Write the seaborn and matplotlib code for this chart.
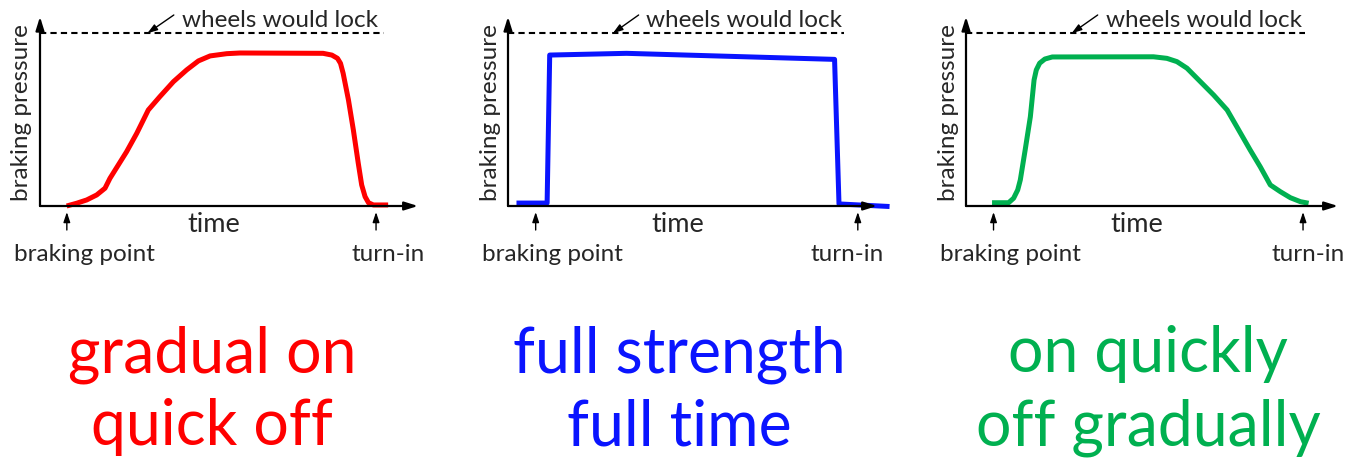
import matplotlib
matplotlib.use("Agg")
import pandas as pd
import seaborn as sns
import matplotlib.pyplot as plt

# time: 0 = pressure axis, 100 = tip of time arrow ; pressure: 1.0 = wheels would lock
RED_T = [7.06, 9.7, 12.35, 15.0, 17.2, 18.5, 20.7, 22.9, 25.6, 28.65, 31.7, 35.3, 38.8, 41.9, 45.0, 49.4, 52.9,
         74.9, 77.2, 78.7, 79.5, 80.2, 81.6, 82.9, 84.2, 85.1, 86.0, 86.9, 88.2, 92.1]
RED_P = [0.0, 0.016, 0.035, 0.064, 0.103, 0.160, 0.237, 0.314, 0.421, 0.556, 0.633, 0.720, 0.788, 0.840, 0.869, 0.882, 0.886,
         0.884, 0.874, 0.855, 0.826, 0.768, 0.614, 0.440, 0.247, 0.122, 0.054, 0.019, 0.006, 0.006]

BLUE_T = [2.3, 10.6, 11.3, 32.1, 88.5, 89.7, 103.4]
BLUE_P = [0.017, 0.017, 0.874, 0.884, 0.849, 0.012, -0.003]

GREEN_T = [7.0, 11.45, 12.8, 13.9, 14.6, 15.9, 17.3, 18.3, 18.9, 19.8, 21.2, 23.2,
           50.4, 54.0, 56.7, 59.4, 63.0, 66.6, 70.2, 72.8, 76.4, 79.1, 81.8, 84.5, 87.2, 89.9, 92.1]
GREEN_P = [0.019, 0.019, 0.045, 0.093, 0.151, 0.324, 0.517, 0.730, 0.788, 0.827, 0.851, 0.863,
           0.864, 0.855, 0.836, 0.798, 0.720, 0.642, 0.556, 0.459, 0.324, 0.227, 0.122, 0.083, 0.048, 0.025, 0.016]

BRAKE_T = [7.1, 7.5, 7.4]
TURNIN_T = [88.9, 94.8, 90.6]

CAPTIONS = [("gradual on", "quick off"), ("full strength", "full time"), ("on quickly", "off gradually")]
COLOURS = ["#ff0000", "#0a14ff", "#00b050"]

sns.set_style("white")
plt.rcParams["font.family"] = ["Lato", "DejaVu Sans"]

W, H = 1356, 465
fig = plt.figure(figsize=(W / 100, H / 100), dpi=100)

# pixel frame of each panel: left edge of pressure axis, length of time axis
frames = [(40, 378), (508, 369), (966, 372)]
caption_x = [212, 679, 1148]
x_axis_y, lock_h = 206, 172.7

curves = [(RED_T, RED_P), (BLUE_T, BLUE_P), (GREEN_T, GREEN_P)]

axis_arrow = dict(arrowstyle="-|>,head_length=0.8,head_width=0.25", color="black",
                  lw=1.6, mutation_scale=10, shrinkA=0, shrinkB=0)
thin_arrow = dict(arrowstyle="-|>,head_length=0.6,head_width=0.2", color="black",
                  lw=1.0, mutation_scale=10, shrinkA=0, shrinkB=0)

for i, ((left, width), (t, p)) in enumerate(zip(frames, curves)):
    ax = fig.add_axes([left / W, (H - x_axis_y) / H, width / W, lock_h / H])
    ax.set_xlim(0, 100)
    ax.set_ylim(0, 1)
    ax.axis("off")

    df = pd.DataFrame({"time": t, "pressure": p})
    sns.lineplot(data=df, x="time", y="pressure", ax=ax, color=COLOURS[i],
                 lw=3.6, sort=False, estimator=None)
    for ln in ax.lines:
        ln.set_clip_on(False)
        ln.set_solid_capstyle("butt")
        ln.set_solid_joinstyle("round")

    # axes with arrow heads
    ax.annotate("", xy=(100, 0), xytext=(0, 0), arrowprops=axis_arrow, annotation_clip=False)
    ax.annotate("", xy=(0, 1.096), xytext=(0, 0), arrowprops=axis_arrow, annotation_clip=False)

    # lock level
    ax.plot([0, 91], [1, 1], color="black", lw=1.5, ls=(0, (3, 2)), clip_on=False)
    ax.annotate("", xy=(28.4, 1.0), xytext=(35.4, 1.106), arrowprops=thin_arrow, annotation_clip=False)
    ax.text(37.5, 1.036, "wheels would lock", fontsize=17.5, ha="left", va="baseline")

    ax.text(-4.8, 0.54, "braking pressure", fontsize=17.5, rotation=90, ha="center", va="center")
    ax.text(46, -0.149, "time", fontsize=19.5, ha="center", va="baseline")

    # braking point / turn-in markers
    ax.annotate("", xy=(BRAKE_T[i], -0.035), xytext=(BRAKE_T[i], -0.139), arrowprops=thin_arrow, annotation_clip=False)
    ax.annotate("", xy=(TURNIN_T[i], -0.035), xytext=(TURNIN_T[i], -0.139), arrowprops=thin_arrow, annotation_clip=False)
    ax.text(-7, -0.318, "braking point", fontsize=17.5, ha="left", va="baseline")
    ax.text(101.8, -0.318, "turn-in", fontsize=17.5, ha="right", va="baseline")

    # captions
    fig.text(caption_x[i] / W, 1 - 372 / H, CAPTIONS[i][0], fontsize=45, color=COLOURS[i],
             ha="center", va="baseline")
    fig.text(caption_x[i] / W, 1 - 445 / H, CAPTIONS[i][1], fontsize=45, color=COLOURS[i],
             ha="center", va="baseline")

fig.savefig("out.png", dpi=100)
